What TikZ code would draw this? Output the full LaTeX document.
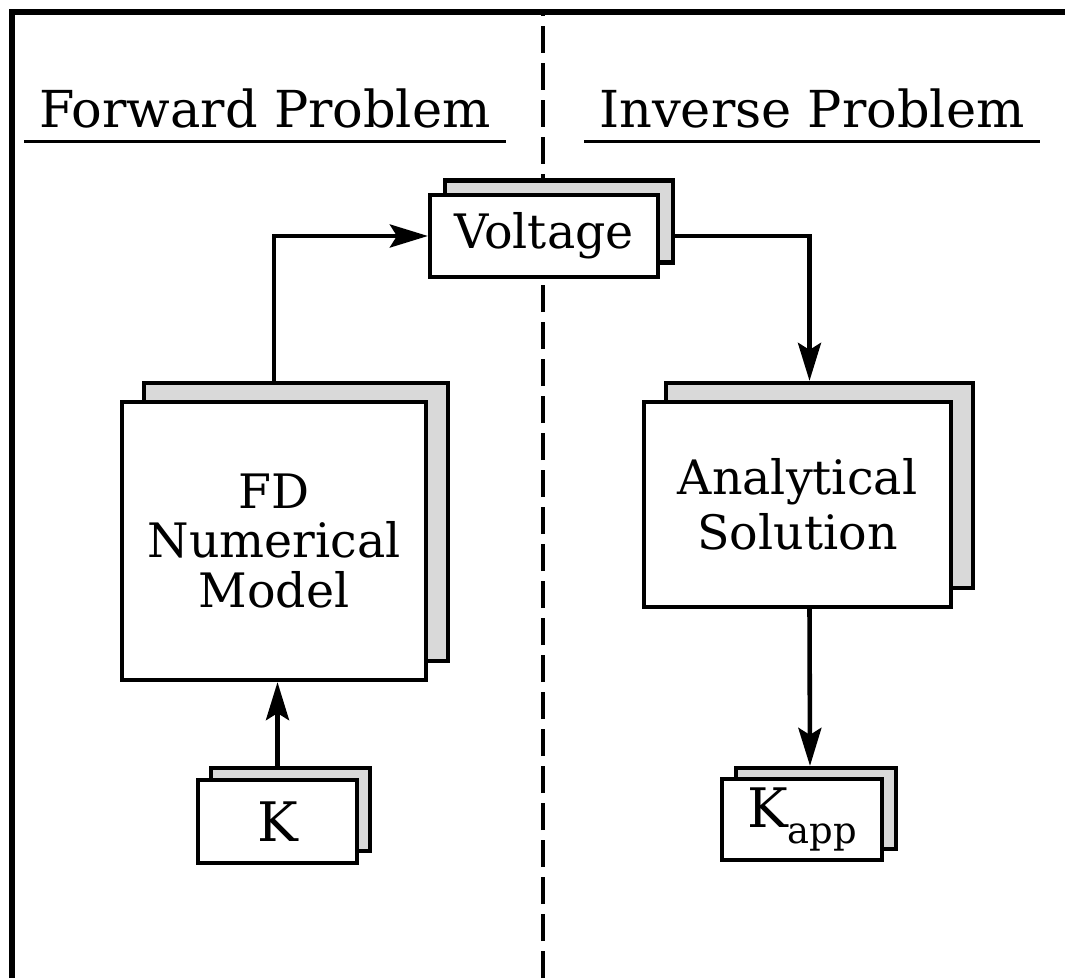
\documentclass[tikz,border=0pt]{standalone}
\usepackage{fontspec}
\setmainfont{DejaVu Serif}
\usetikzlibrary{arrows.meta,shadows}
\newcommand\boxfont{\fontsize{13.5}{15.5}\selectfont}
\newcommand\headfont{\fontsize{14.5}{17}\selectfont}
\begin{document}
\begin{tikzpicture}[
  box/.style = {draw, line width=1.2pt, fill=white, align=center, font=\boxfont, inner sep=0pt},
  backing/.style 2 args = {general shadow={shadow xshift=#1, shadow yshift=#2,
      draw, line width=1.2pt, fill=black!15}},
  head/.style = {anchor=base, font=\headfont, inner xsep=4pt, inner ysep=3.4pt},
  arr/.style = {line width=1.3pt, -{Stealth[length=3.8mm, width=2.3mm, inset=0.7mm]}}]
  \useasboundingbox (0,0) rectangle (10.65,9.78);
  % frame and divider
  \draw[line width=1.8pt] (0.12,0) -- (0.12,9.66) -- (10.65,9.66);
  \draw[line width=0.9pt, dash pattern=on 2.7mm off 1mm] (5.43,0) -- (5.43,9.66);
  % titles
  \node[head] (fwd) at (2.65,8.50) {Forward Problem};
  \node[head] (inv) at (8.12,8.50) {Inverse Problem};
  \draw[line width=0.9pt] (fwd.south west) -- (fwd.south east);
  \draw[line width=0.9pt] (inv.south west) -- (inv.south east);
  % boxes
  \node[box, backing={0.15cm}{0.145cm}, minimum width=2.28cm, minimum height=0.82cm]
    (volt) at (5.44,7.42) {Voltage};
  \node[box, backing={0.22cm}{0.19cm}, minimum width=3.04cm, minimum height=2.78cm]
    (fd) at (2.74,4.37) {FD\\[-1.5pt]Numerical\\[-1.5pt]Model};
  \node[box, backing={0.22cm}{0.19cm}, minimum width=3.07cm, minimum height=2.05cm]
    (ana) at (7.975,4.735) {Analytical\\Solution};
  \node[box, backing={0.13cm}{0.12cm}, minimum width=1.59cm, minimum height=0.83cm,
    font=\fontsize{15.5}{18}\selectfont] (k) at (2.775,1.565) {K};
  \node[box, backing={0.14cm}{0.11cm}, minimum width=1.60cm, minimum height=0.81cm,
    font=\fontsize{15.5}{18}\selectfont]
    (kapp) at (8.02,1.585) {K\raisebox{-0.55ex}{\fontsize{10.5}{12}\selectfont app}};
  % connectors
  \draw[arr] ([yshift=0.19cm]fd.north) |- (volt.west);
  \draw[arr] ([xshift=0.15cm]volt.east) -| ([xshift=0.12cm, yshift=0.19cm]ana.north);
  \draw[arr] ([xshift=0.12cm]ana.south) -- ([xshift=0.08cm, yshift=0.11cm]kapp.north);
  \draw[arr] ([yshift=0.12cm]k.north) -- (k.north |- fd.south);
\end{tikzpicture}
\end{document}
